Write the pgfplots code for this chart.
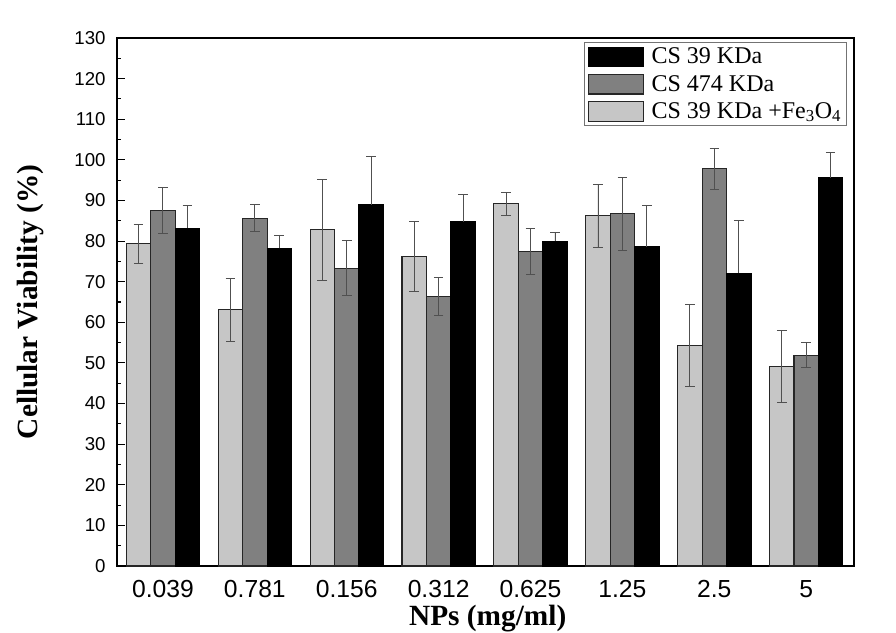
\documentclass[border=0pt]{standalone}
\usepackage{fontspec}
\setmainfont{Liberation Serif}
\newfontfamily\arialfont{Liberation Sans}
\usepackage{pgfplots}
\pgfplotsset{compat=1.18}

\definecolor{lightbar}{HTML}{C6C6C6}
\definecolor{midbar}{HTML}{808080}
\definecolor{errgray}{HTML}{505050}

\begin{document}
\begin{tikzpicture}
% page is 896x632 px, 1px = 0.75pt
\useasboundingbox (0,0) rectangle (672pt,474pt);
\begin{axis}[
    at={(87.75pt,49.5pt)}, anchor=south west,
    scale only axis,
    width=552.75pt, height=396pt,
    ybar, bar width=0.266,
    xmin=-0.5, xmax=7.52,
    ymin=0, ymax=130,
    xtick={0,1,2,3,4,5,6,7},
    xticklabels={0.039,0.781,0.156,0.312,0.625,1.25,2.5,5},
    xtick style={draw=none},
    ytick={0,10,...,130},
    minor y tick num=1,
    ytick pos=left,
    tick align=inside,
    major tick length=6pt, minor tick length=3pt,
    tick style={black, line width=0.8pt},
    axis line style={line width=1.1pt},
    /pgf/number format/assume math mode=true,
    yticklabel style={font=\fontsize{14}{16}\selectfont\arialfont, xshift=-5pt},
    xticklabel style={font=\fontsize{18.5}{20}\selectfont\arialfont, yshift=-7pt},
    xlabel={\textbf{NPs (mg/ml)}},
    ylabel={\textbf{Cellular Viability (\%)}},
    every axis x label/.style={at={(axis description cs:0.503,-0.113)}, anchor=base, font=\fontsize{22}{24}\selectfont},
    every axis y label/.style={at={(axis description cs:-0.118,0.5)}, rotate=90, anchor=center, font=\fontsize{22}{24}\selectfont},
    legend style={at={(axis description cs:0.9905,0.992)}, anchor=north east,
        draw=black!55, line width=0.6pt, font=\fontsize{18}{20}\selectfont,
        row sep=3pt, inner sep=2pt, cells={anchor=west},
        /tikz/every odd column/.append style={column sep=4pt}},
    legend image code/.code={\draw[#1, line width=0.8pt] (0cm,-0.26cm) rectangle (1.45cm,0.26cm);},
    reverse legend,
    error bars/y dir=both,
    error bars/y explicit,
    error bars/error bar style={color=errgray, line width=0.7pt},
    error bars/error mark options={rotate=90, mark size=3.6pt, color=errgray, line width=0.7pt},
]
\addplot[fill=lightbar, draw=black!85, line width=0.8pt, bar shift=-0.266]
  coordinates {
    (0,79.3) +- (0,4.7)
    (1,63.1) +- (0,7.7)
    (2,82.8) +- (0,12.4)
    (3,76.2) +- (0,8.7)
    (4,89.2) +- (0,2.8)
    (5,86.2) +- (0,7.7)
    (6,54.2) +- (0,10.1)
    (7,49.2) +- (0,8.9)
  };
\addlegendentry{CS 39 KDa +Fe\textsubscript{3}O\textsubscript{4}}
\addplot[fill=midbar, draw=black!85, line width=0.8pt, bar shift=0]
  coordinates {
    (0,87.6) +- (0,5.7)
    (1,85.6) +- (0,3.3)
    (2,73.3) +- (0,6.8)
    (3,66.3) +- (0,4.7)
    (4,77.4) +- (0,5.6)
    (5,86.7) +- (0,8.9)
    (6,97.8) +- (0,5.1)
    (7,51.9) +- (0,3.1)
  };
\addlegendentry{CS 474 KDa}
\addplot[fill=black, draw=black, line width=0.8pt, bar shift=0.266,
    error bars/y dir=plus]
  coordinates {
    (0,83.2) +- (0,5.6)
    (1,78.2) +- (0,3.3)
    (2,88.9) +- (0,12.0)
    (3,84.8) +- (0,6.7)
    (4,79.9) +- (0,2.2)
    (5,78.6) +- (0,10.1)
    (6,72.1) +- (0,12.9)
    (7,95.6) +- (0,6.2)
  };
\addlegendentry{CS 39 KDa}
\end{axis}
\end{tikzpicture}
\end{document}
